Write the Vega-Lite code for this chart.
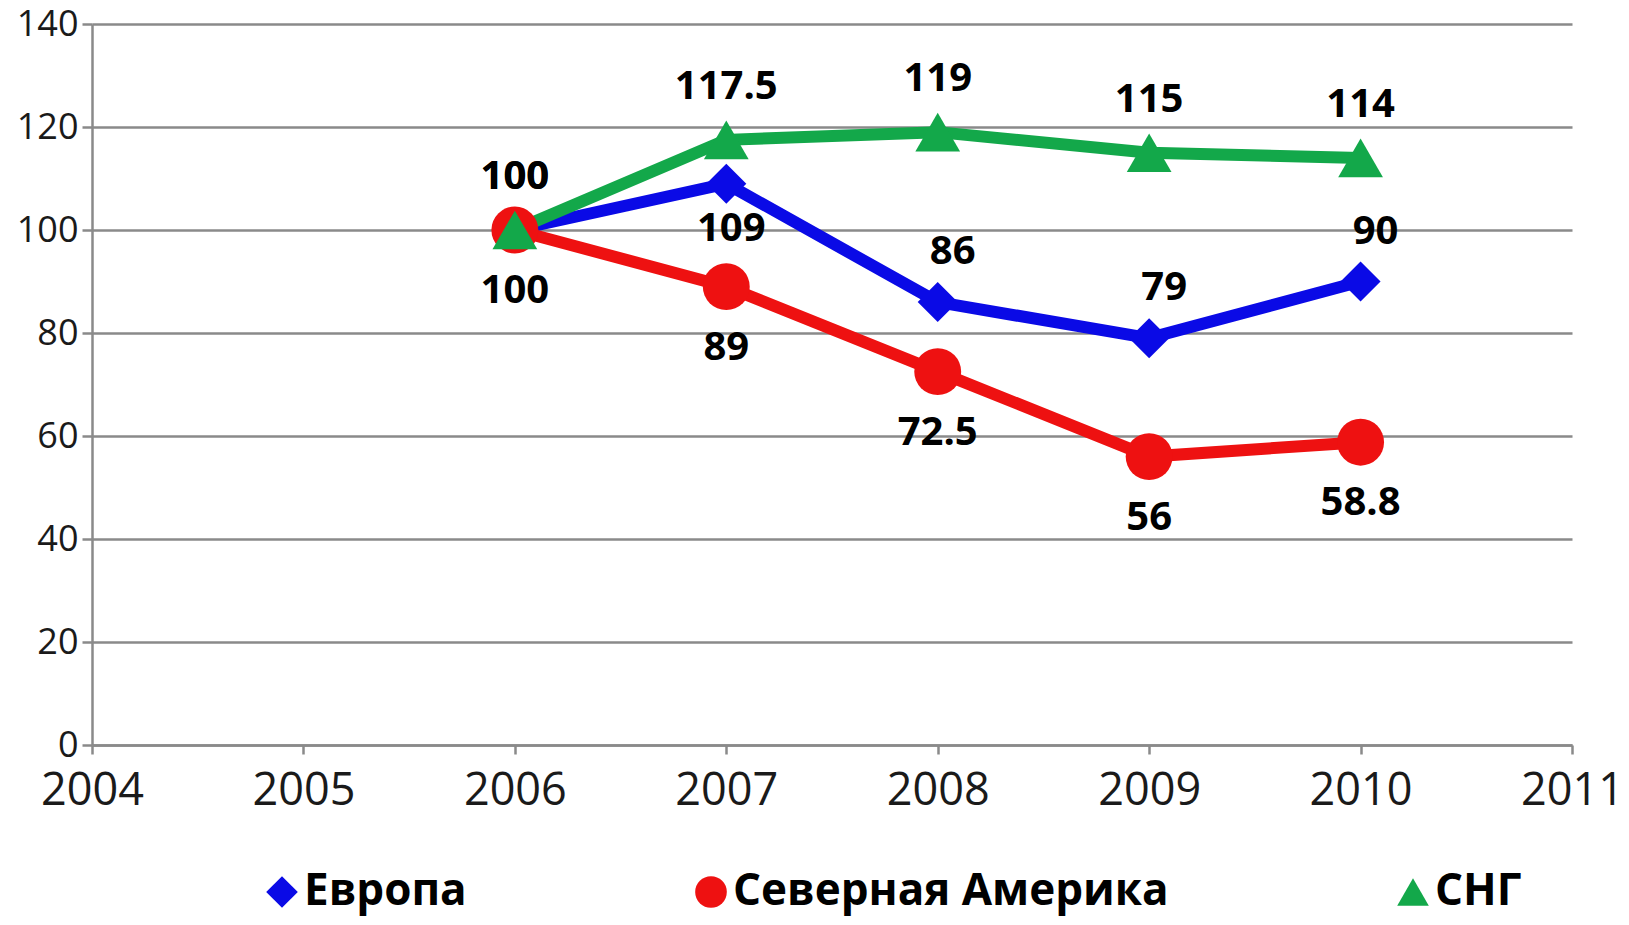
{
  "$schema": "https://vega.github.io/schema/vega-lite/v6.json",
  "autosize": "none",
  "width": 1480,
  "height": 721,
  "padding": {"left": 92, "top": 24, "right": 57, "bottom": 180},
  "background": "white",
  "config": {
    "view": {"stroke": null},
    "font": "Open Sans",
    "axis": {
      "domainColor": "#8a8a8a",
      "domainWidth": 2.5,
      "tickColor": "#8a8a8a",
      "tickWidth": 2.5,
      "gridColor": "#8a8a8a",
      "gridWidth": 2.5,
      "labelColor": "#1a1a1a",
      "labelFont": "Open Sans",
      "title": null
    },
    "legend": {
      "title": null,
      "orient": "none",
      "direction": "horizontal",
      "legendX": 168,
      "legendY": 846,
      "labelFontSize": 44,
      "labelFontWeight": "bold",
      "labelColor": "#000000",
      "labelFont": "Open Sans",
      "symbolSize": 1000,
      "symbolStrokeWidth": 0,
      "symbolOpacity": 1,
      "labelOffset": 0,
      "columnPadding": 222,
      "labelLimit": 0
    }
  },
  "data": {
    "values": [
      {"year": 2006, "series": "Европа", "value": 100},
      {"year": 2007, "series": "Европа", "value": 109},
      {"year": 2008, "series": "Европа", "value": 86},
      {"year": 2009, "series": "Европа", "value": 79},
      {"year": 2010, "series": "Европа", "value": 90},
      {"year": 2006, "series": "Северная Америка", "value": 100},
      {"year": 2007, "series": "Северная Америка", "value": 89},
      {"year": 2008, "series": "Северная Америка", "value": 72.5},
      {"year": 2009, "series": "Северная Америка", "value": 56},
      {"year": 2010, "series": "Северная Америка", "value": 58.8},
      {"year": 2006, "series": "СНГ", "value": 100},
      {"year": 2007, "series": "СНГ", "value": 117.5},
      {"year": 2008, "series": "СНГ", "value": 119},
      {"year": 2009, "series": "СНГ", "value": 115},
      {"year": 2010, "series": "СНГ", "value": 114}
    ]
  },
  "encoding": {
    "x": {
      "field": "year",
      "type": "quantitative",
      "scale": {"domain": [2004, 2011], "nice": false, "zero": false},
      "axis": {
        "values": [2004, 2005, 2006, 2007, 2008, 2009, 2010, 2011],
        "format": "d",
        "grid": false,
        "tickSize": 9,
        "labelFontSize": 45,
        "labelPadding": 14,
        "labelFlush": false
      }
    },
    "y": {
      "field": "value",
      "type": "quantitative",
      "scale": {"domain": [0, 140], "nice": false},
      "axis": {
        "values": [0, 20, 40, 60, 80, 100, 120, 140],
        "grid": true,
        "tickSize": 10,
        "labelFontSize": 36,
        "labelPadding": 4,
        "labelFlush": false
      }
    },
    "color": {
      "field": "series",
      "type": "nominal",
      "scale": {"domain": ["Европа", "Северная Америка", "СНГ"], "range": ["#0a0ae6", "#ee1111", "#13a84a"]}
    }
  },
  "layer": [
    {
      "mark": {"type": "line", "strokeWidth": 12},
      "encoding": {
        "order": {"field": "year"}
      }
    },
    {
      "transform": [{"filter": "datum.series === 'Европа'"}],
      "mark": {"type": "point", "filled": true, "opacity": 1, "strokeWidth": 0, "size": 1600},
      "encoding": {
        "shape": {
          "field": "series",
          "type": "nominal",
          "scale": {"domain": ["Европа", "Северная Америка", "СНГ"], "range": ["diamond", "circle", "triangle-up"]}
        }
      }
    },
    {
      "transform": [{"filter": "datum.series === 'Северная Америка'"}],
      "mark": {"type": "point", "filled": true, "opacity": 1, "strokeWidth": 0, "size": 2200},
      "encoding": {
        "shape": {
          "field": "series",
          "type": "nominal",
          "scale": {"domain": ["Европа", "Северная Америка", "СНГ"], "range": ["diamond", "circle", "triangle-up"]}
        }
      }
    },
    {
      "transform": [{"filter": "datum.series === 'СНГ'"}],
      "mark": {"type": "point", "filled": true, "opacity": 1, "strokeWidth": 0, "size": 2000},
      "encoding": {
        "shape": {
          "field": "series",
          "type": "nominal",
          "scale": {"domain": ["Европа", "Северная Америка", "СНГ"], "range": ["diamond", "circle", "triangle-up"]}
        }
      }
    },
    {
      "transform": [{"filter": "datum.series === 'СНГ' || (datum.series === 'Европа' && datum.year === 2006)"}],
      "mark": {"type": "text", "dy": -53, "fontSize": 40, "fontWeight": "bold", "color": "#000000", "baseline": "middle", "font": "Open Sans"},
      "encoding": {"text": {"field": "value", "type": "quantitative"}, "color": {"value": "#000000"}}
    },
    {
      "transform": [{"filter": "datum.series === 'Европа' && datum.year >= 2008"}],
      "mark": {"type": "text", "dy": -50, "dx": 15, "fontSize": 40, "fontWeight": "bold", "color": "#000000", "baseline": "middle", "font": "Open Sans"},
      "encoding": {"text": {"field": "value", "type": "quantitative"}, "color": {"value": "#000000"}}
    },
    {
      "transform": [{"filter": "datum.series === 'Европа' && datum.year === 2007"}],
      "mark": {"type": "text", "dy": 45, "dx": 5, "fontSize": 40, "fontWeight": "bold", "color": "#000000", "baseline": "middle", "font": "Open Sans"},
      "encoding": {"text": {"field": "value", "type": "quantitative"}, "color": {"value": "#000000"}}
    },
    {
      "transform": [{"filter": "datum.series === 'Северная Америка'"}],
      "mark": {"type": "text", "dy": 61, "fontSize": 40, "fontWeight": "bold", "color": "#000000", "baseline": "middle", "font": "Open Sans"},
      "encoding": {"text": {"field": "value", "type": "quantitative"}, "color": {"value": "#000000"}}
    }
  ]
}
